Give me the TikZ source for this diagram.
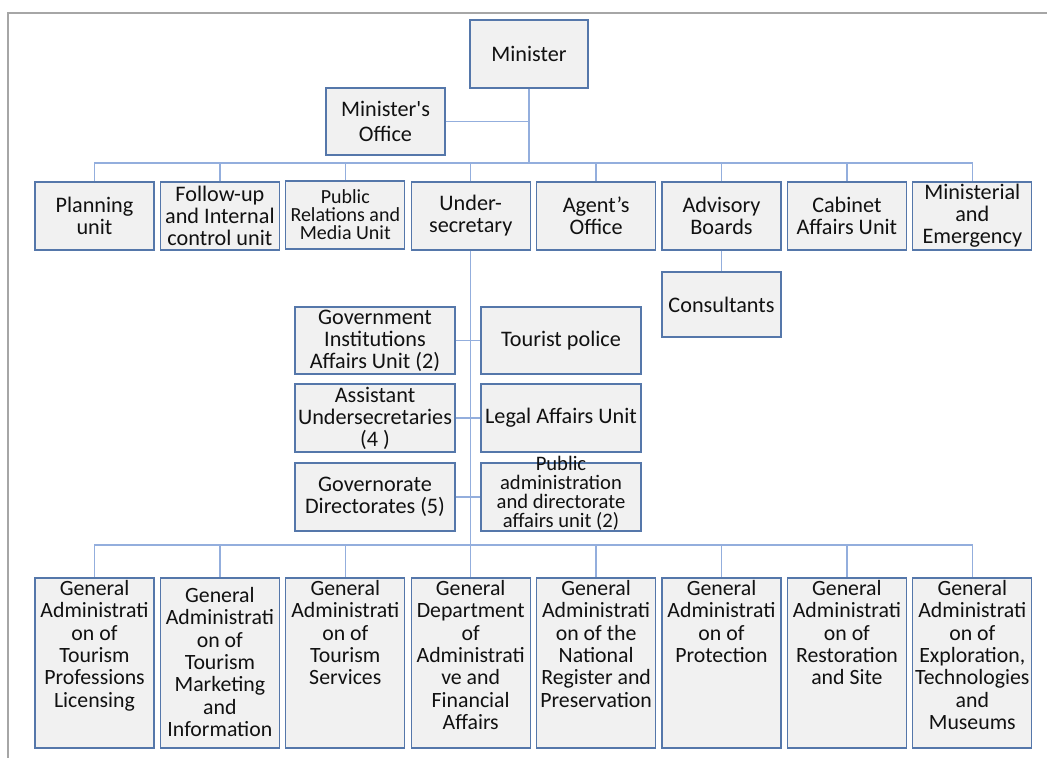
\documentclass[tikz,border=0pt]{standalone}
\usepackage{fontspec}
\setmainfont{Carlito}[Ligatures=TeXOff]
\definecolor{boxc}{HTML}{5577AA}
\definecolor{boxf}{HTML}{F1F1F1}
\definecolor{linec}{HTML}{93AEDD}
\definecolor{txt}{HTML}{111111}
\definecolor{framec}{HTML}{A6A6A6}
\begin{document}
\begin{tikzpicture}[x=1pt,y=-1pt,
  box/.style={draw=boxc, fill=boxf, line width=1.3pt, inner sep=0pt,
    minimum width=119pt, minimum height=68pt, align=center, text=txt,
    font=\fontsize{22.2}{22}\selectfont},
  prfont/.style={font=\fontsize{20}{18}\selectfont},
  pafont/.style={font=\fontsize{20.6}{19}\selectfont},
  midbox/.style={box, minimum width=160pt},
  tallbox/.style={box, minimum height=170pt},
  btext/.style={inner sep=0pt, align=center, text=txt, font=\fontsize{21.8}{22.3}\selectfont, anchor=north},
  conn/.style={draw=linec, line width=1.3pt}]
\useasboundingbox (0,0) rectangle (1047,758);
\fill[white] (0,0) rectangle (1047,758);
\draw[framec, line width=1.3pt] (1047,13) -- (8,13) -- (8,758);

% top
\node[box, minimum width=118pt] (min) at (529,54) {Minister};
\node[box, minimum height=67pt, font=\fontsize{22.2}{25}\selectfont] (mo) at (385.5,121.5) {Minister's\\Office};

% row 1
\node[box] (r1) at (94.5,216) {Planning\\unit};
\node[box] (r2) at (219.9,216) {Follow-up\\and Internal\\control unit};
\node[box, prfont] (r3) at (345.3,215) {Public\\Relations and\\Media Unit};
\node[box] (r4) at (470.7,216) {Under-\\secretary};
\node[box] (r5) at (596.1,216) {Agent’s\\Office};
\node[box] (r6) at (721.5,216) {Advisory\\Boards};
\node[box] (r7) at (846.9,216) {Cabinet\\Affairs Unit};
\node[box] (r8) at (972.3,216) {Ministerial\\and\\Emergency};

\node[box, minimum height=65pt] (cons) at (721.5,304.5) {Consultants};

% middle
\node[midbox, minimum height=67pt] (m1) at (375,340.5) {Government\\Institutions\\Affairs Unit (2)};
\node[midbox, minimum height=67pt] (m2) at (561,340.5) {Tourist police};
\node[midbox] (m3) at (375,418) {Assistant\\Undersecretaries\\(4 )};
\node[midbox] (m4) at (561,418) {Legal Affairs Unit};
\node[midbox] (m5) at (375,497) {Governorate\\Directorates (5)};
\node[midbox, minimum height=68pt] (m6) at (561,497) {};
\node[btext, pafont, anchor=center] (m6t) at (561,493) {Public\\administration\\and directorate\\affairs unit (2)};

% bottom
\node[tallbox] (g1) at (94.5,663) {};
\node[tallbox] (g2) at (219.9,663) {};
\node[tallbox] (g3) at (345.3,663) {};
\node[tallbox] (g4) at (470.7,663) {};
\node[tallbox] (g5) at (596.1,663) {};
\node[tallbox] (g6) at (721.5,663) {};
\node[tallbox] (g7) at (846.9,663) {};
\node[tallbox] (g8) at (972.3,663) {};
\node[btext] (g1t) at ([yshift=-3pt]g1.north) {General\\Administrati\\on of\\Tourism\\Professions\\Licensing};
\node[btext] (g2t) at ([yshift=-10pt]g2.north) {General\\Administrati\\on of\\Tourism\\Marketing\\and\\Information};
\node[btext] (g3t) at ([yshift=-3pt]g3.north) {General\\Administrati\\on of\\Tourism\\Services};
\node[btext] (g4t) at ([yshift=-3pt]g4.north) {General\\Department\\of\\Administrati\\ve and\\Financial\\Affairs};
\node[btext] (g5t) at ([yshift=-3pt]g5.north) {General\\Administrati\\on of the\\National\\Register and\\Preservation};
\node[btext] (g6t) at ([yshift=-3pt]g6.north) {General\\Administrati\\on of\\Protection};
\node[btext] (g7t) at ([yshift=-3pt]g7.north) {General\\Administrati\\on of\\Restoration\\and Site};
\node[btext] (g8t) at ([yshift=-3pt]g8.north) {General\\Administrati\\on of\\Exploration,\\Technologies\\and\\Museums};

% connectors
\coordinate (bus1) at (529,163);
\coordinate (mojoin) at (529,121.5);
\coordinate (bus2) at (470.7,545);
\draw[conn] (min.south) -- (bus1);
\draw[conn] (mo.east) -- (mojoin);
\foreach \n in {r1,r2,r3,r4,r5,r6,r7,r8} \draw[conn] (bus1) -| (\n.north);
\draw[conn] (r6.south) -- (cons.north);
\draw[conn] (r4.south) -- (bus2);
\draw[conn] (m1.east) -- (m2.west);
\draw[conn] (m3.east) -- (m4.west);
\draw[conn] (m5.east) -- (m6.west);
\foreach \n in {g1,g2,g3,g4,g5,g6,g7,g8} \draw[conn] (bus2) -| (\n.north);
\end{tikzpicture}
\end{document}
